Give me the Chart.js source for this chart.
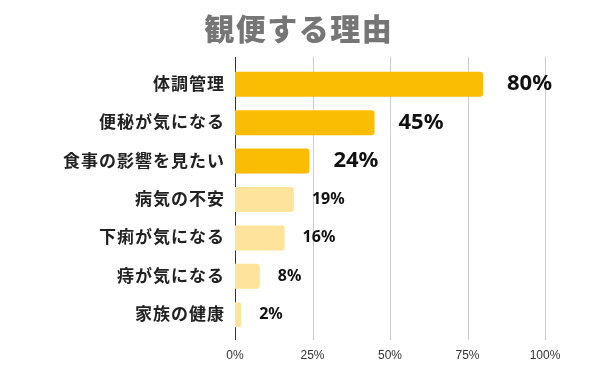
<!DOCTYPE html>
<html>
<head>
<meta charset="utf-8">
<script src="https://cdn.jsdelivr.net/npm/chart.js@4.4.1/dist/chart.umd.min.js"></script>
<style>
  html, body { margin: 0; padding: 0; background: #fff; }
  #wrap { width: 600px; height: 371px; }
</style>
</head>
<body>
<div id="wrap"><canvas id="chart" width="600" height="371"></canvas></div>
<script>
const title = '観便する理由';
const categories = ['体調管理', '便秘が気になる', '食事の影響を見たい', '病気の不安', '下痢が気になる', '痔が気になる', '家族の健康'];
const values = [80, 45, 24, 19, 16, 8, 2];
const xTicks = [0, 25, 50, 75, 100];
const highlightCount = 3; // top answers drawn in the strong colour

const strong = '#FBBC04';
const soft = '#FEE39A';
const jpFont = '"Noto Sans CJK JP", "Noto Sans", sans-serif';

// vertical rules, a little longer than the plot area like the original
const gridPlugin = {
  id: 'grid',
  beforeDatasetsDraw(chart) {
    const { ctx, chartArea, scales: { x } } = chart;
    ctx.save();
    x.ticks.forEach((t, i) => {
      const px = Math.round(x.getPixelForValue(t.value)) + 0.5;
      ctx.strokeStyle = i === 0 ? '#333333' : '#cccccc';
      ctx.lineWidth = 1;
      ctx.beginPath();
      ctx.moveTo(px, chartArea.top - 8);
      ctx.lineTo(px, chartArea.bottom + 6);
      ctx.stroke();
    });
    ctx.restore();
  }
};

// title, category names and value labels
const textPlugin = {
  id: 'texts',
  afterDatasetsDraw(chart) {
    const { ctx, chartArea, scales: { x, y } } = chart;
    ctx.save();
    ctx.textBaseline = 'middle';

    // title
    ctx.font = '900 30px ' + jpFont;
    ctx.letterSpacing = '1.5px';
    ctx.fillStyle = '#767676';
    ctx.textAlign = 'left';
    const tw = ctx.measureText(title).width - 1.5;
    ctx.fillText(title, 298 - tw / 2, 29);

    // category labels
    ctx.font = 'bold 17px ' + jpFont;
    ctx.letterSpacing = '1px';
    ctx.fillStyle = '#222222';
    ctx.textAlign = 'right';
    categories.forEach((c, i) => {
      ctx.fillText(c, chartArea.left - 10, y.getPixelForTick(i) - 1);
    });

    // value labels
    ctx.letterSpacing = '0px';
    ctx.textAlign = 'left';
    ctx.fillStyle = '#111111';
    const meta = chart.getDatasetMeta(0);
    meta.data.forEach((bar, i) => {
      const big = i < highlightCount;
      ctx.font = (big ? 'bold 22px ' : 'bold 16px ') + '"Noto Sans", sans-serif';
      ctx.fillText(values[i] + '%', bar.x + (big ? 24 : 18), bar.y);
    });
    ctx.restore();
  }
};

new Chart(document.getElementById('chart'), {
  type: 'bar',
  data: {
    labels: categories,
    datasets: [{
      data: values,
      backgroundColor: values.map((v, i) => i < highlightCount ? strong : soft),
      borderRadius: 3,
      barPercentage: 0.65,
      categoryPercentage: 1
    }]
  },
  options: {
    indexAxis: 'y',
    responsive: false,
    animation: false,
    layout: { padding: { left: 235, right: 55, top: 65, bottom: 7 } },
    plugins: {
      legend: { display: false },
      tooltip: { enabled: false },
      title: { display: false }
    },
    scales: {
      x: {
        min: 0,
        max: 100,
        afterBuildTicks(scale) { scale.ticks = xTicks.map(v => ({ value: v })); },
        afterFit(scale) { scale.height = 30; },
        grid: { display: false },
        border: { display: false },
        ticks: {
          padding: 6,
          color: '#333333',
          font: { family: '"Liberation Sans", Arial, sans-serif', size: 12 },
          callback: v => v + '%'
        }
      },
      y: {
        afterFit(scale) { scale.width = 0; },
        grid: { display: false },
        border: { display: false },
        ticks: { display: false }
      }
    }
  },
  plugins: [gridPlugin, textPlugin]
});
</script>
</body>
</html>
